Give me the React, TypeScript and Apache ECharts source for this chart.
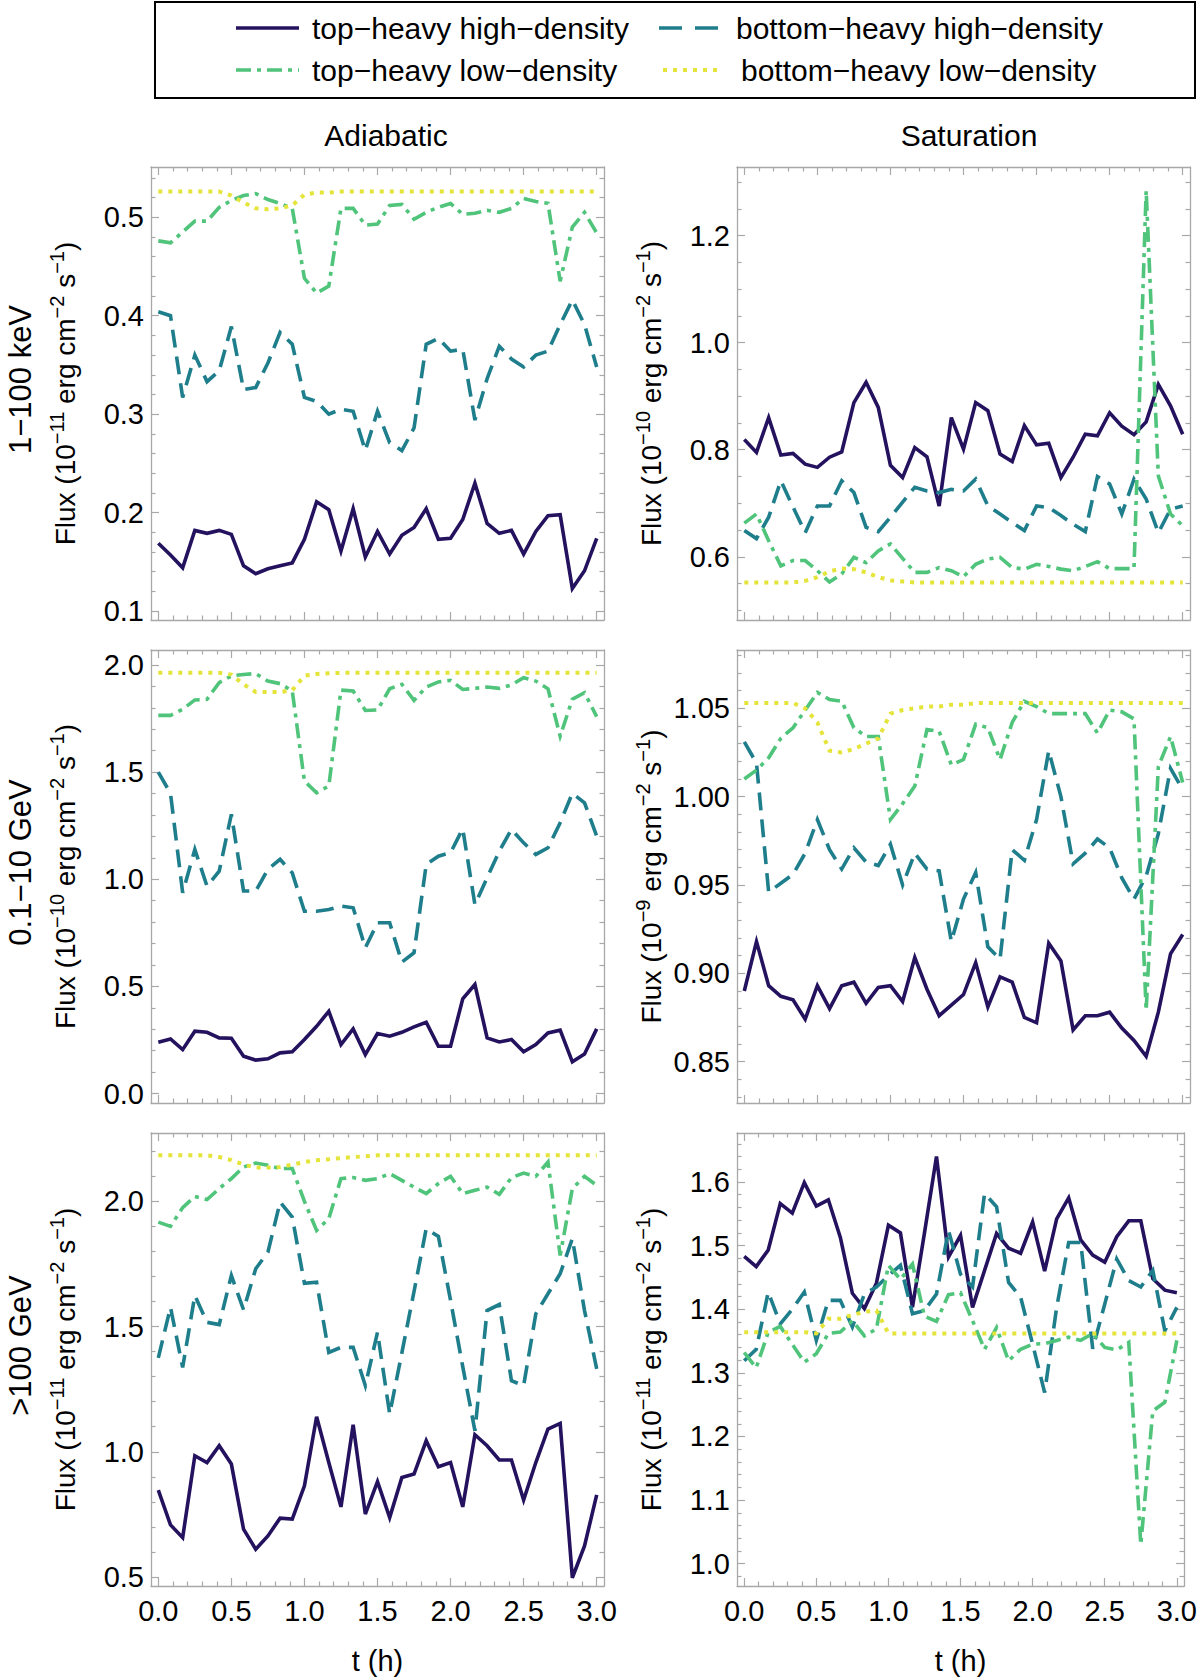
import React, { useEffect, useRef } from "react";
import * as echarts from "echarts";

// time axis: one sample every 5 minutes over 3 h
const MINUTES = [0, 5, 10, 15, 20, 25, 30, 35, 40, 45, 50, 55, 60, 65, 70, 75, 80, 85, 90, 95, 100, 105, 110, 115, 120, 125, 130, 135, 140, 145, 150, 155, 160, 165, 170, 175, 180];
const HOURS = MINUTES.map((m) => m / 60);

const SERIES_NAMES = ["top−heavy high−density", "bottom−heavy high−density", "top−heavy low−density", "bottom−heavy low−density"];
const COLUMN_TITLES = ["Adiabatic", "Saturation"];
const ROW_TITLES = ["1−100 keV", "0.1−10 GeV", ">100 GeV"];
const X_TICKS = [0, 0.5, 1, 1.5, 2, 2.5, 3];

// 1-100 keV, adiabatic (1e-11)
const kevAdiThHigh = [0.169, 0.157, 0.144, 0.182, 0.179, 0.182, 0.178, 0.146, 0.138, 0.143, 0.146, 0.149, 0.173, 0.211, 0.203, 0.161, 0.204, 0.155, 0.181, 0.158, 0.177, 0.185, 0.204, 0.173, 0.174, 0.193, 0.230, 0.189, 0.179, 0.182, 0.158, 0.181, 0.197, 0.198, 0.123, 0.141, 0.174];
const kevAdiBhHigh = [0.404, 0.400, 0.317, 0.360, 0.333, 0.344, 0.389, 0.325, 0.327, 0.352, 0.383, 0.371, 0.317, 0.313, 0.300, 0.305, 0.303, 0.263, 0.303, 0.271, 0.263, 0.286, 0.371, 0.377, 0.364, 0.366, 0.294, 0.336, 0.369, 0.356, 0.348, 0.360, 0.364, 0.391, 0.416, 0.391, 0.348];
const kevAdiThLow = [0.476, 0.474, 0.485, 0.496, 0.496, 0.510, 0.517, 0.522, 0.524, 0.518, 0.514, 0.509, 0.438, 0.423, 0.430, 0.509, 0.509, 0.492, 0.493, 0.512, 0.513, 0.498, 0.505, 0.510, 0.514, 0.503, 0.504, 0.507, 0.505, 0.509, 0.519, 0.516, 0.514, 0.435, 0.490, 0.505, 0.484];
const kevAdiBhLow = [0.526, 0.526, 0.526, 0.526, 0.526, 0.526, 0.522, 0.515, 0.509, 0.508, 0.509, 0.512, 0.523, 0.525, 0.525, 0.526, 0.526, 0.526, 0.526, 0.526, 0.526, 0.526, 0.526, 0.526, 0.526, 0.526, 0.526, 0.526, 0.526, 0.526, 0.526, 0.526, 0.526, 0.526, 0.526, 0.526, 0.526];

// 1-100 keV, saturation (1e-10)
const kevSatThHigh = [0.819, 0.795, 0.860, 0.790, 0.793, 0.773, 0.767, 0.786, 0.796, 0.888, 0.926, 0.879, 0.771, 0.748, 0.804, 0.787, 0.695, 0.860, 0.801, 0.888, 0.873, 0.792, 0.778, 0.845, 0.809, 0.812, 0.748, 0.786, 0.829, 0.826, 0.869, 0.844, 0.828, 0.852, 0.922, 0.882, 0.829];
const kevSatBhHigh = [0.649, 0.634, 0.674, 0.742, 0.693, 0.645, 0.695, 0.695, 0.742, 0.720, 0.655, 0.647, 0.674, 0.702, 0.730, 0.723, 0.720, 0.726, 0.723, 0.745, 0.695, 0.680, 0.664, 0.649, 0.695, 0.692, 0.677, 0.661, 0.647, 0.750, 0.736, 0.680, 0.745, 0.708, 0.645, 0.689, 0.695];
const kevSatThLow = [0.663, 0.680, 0.630, 0.583, 0.593, 0.593, 0.574, 0.553, 0.568, 0.599, 0.589, 0.611, 0.624, 0.597, 0.571, 0.571, 0.580, 0.574, 0.563, 0.586, 0.596, 0.599, 0.580, 0.577, 0.586, 0.582, 0.577, 0.574, 0.582, 0.591, 0.578, 0.578, 0.578, 1.284, 0.751, 0.680, 0.658];
const kevSatBhLow = [0.552, 0.552, 0.552, 0.552, 0.552, 0.555, 0.562, 0.573, 0.578, 0.577, 0.571, 0.562, 0.556, 0.554, 0.552, 0.552, 0.552, 0.552, 0.552, 0.552, 0.552, 0.552, 0.552, 0.552, 0.552, 0.552, 0.552, 0.552, 0.552, 0.552, 0.552, 0.552, 0.552, 0.552, 0.552, 0.552, 0.552];

// 0.1-10 GeV, adiabatic (1e-10)
const gevAdiThHigh = [0.240, 0.255, 0.205, 0.291, 0.286, 0.260, 0.258, 0.174, 0.156, 0.162, 0.190, 0.195, 0.252, 0.314, 0.384, 0.229, 0.302, 0.182, 0.280, 0.268, 0.286, 0.311, 0.333, 0.221, 0.221, 0.442, 0.509, 0.260, 0.241, 0.252, 0.195, 0.229, 0.283, 0.296, 0.148, 0.185, 0.302];
const gevAdiBhHigh = [1.500, 1.401, 0.937, 1.139, 0.968, 1.038, 1.303, 0.945, 0.945, 1.046, 1.093, 1.030, 0.851, 0.851, 0.859, 0.875, 0.867, 0.680, 0.797, 0.797, 0.613, 0.657, 1.069, 1.108, 1.124, 1.236, 0.882, 1.007, 1.131, 1.233, 1.170, 1.116, 1.147, 1.264, 1.401, 1.357, 1.202];
const gevAdiThLow = [1.765, 1.765, 1.793, 1.837, 1.840, 1.918, 1.949, 1.956, 1.960, 1.925, 1.913, 1.879, 1.458, 1.404, 1.435, 1.883, 1.879, 1.788, 1.790, 1.889, 1.910, 1.835, 1.897, 1.921, 1.928, 1.886, 1.891, 1.897, 1.891, 1.907, 1.941, 1.925, 1.889, 1.668, 1.840, 1.871, 1.759];
const gevAdiBhLow = [1.964, 1.964, 1.964, 1.964, 1.964, 1.964, 1.955, 1.910, 1.874, 1.874, 1.874, 1.882, 1.950, 1.958, 1.961, 1.963, 1.964, 1.964, 1.964, 1.964, 1.964, 1.964, 1.964, 1.964, 1.964, 1.964, 1.964, 1.964, 1.964, 1.964, 1.964, 1.964, 1.964, 1.964, 1.964, 1.964, 1.964];

// 0.1-10 GeV, saturation (1e-9)
const gevSatThHigh = [0.890, 0.918, 0.893, 0.887, 0.885, 0.874, 0.893, 0.880, 0.893, 0.895, 0.883, 0.892, 0.893, 0.884, 0.909, 0.891, 0.876, 0.882, 0.888, 0.906, 0.881, 0.898, 0.895, 0.875, 0.872, 0.917, 0.907, 0.868, 0.876, 0.876, 0.878, 0.869, 0.862, 0.853, 0.878, 0.911, 0.922];
const gevSatBhHigh = [1.031, 1.019, 0.946, 0.951, 0.956, 0.968, 0.987, 0.970, 0.959, 0.971, 0.963, 0.961, 0.973, 0.950, 0.968, 0.959, 0.958, 0.918, 0.942, 0.957, 0.915, 0.908, 0.970, 0.964, 0.987, 1.026, 1.000, 0.962, 0.968, 0.976, 0.971, 0.954, 0.942, 0.955, 0.979, 1.016, 1.004];
const gevSatThLow = [1.010, 1.015, 1.022, 1.033, 1.039, 1.049, 1.059, 1.055, 1.054, 1.039, 1.034, 1.034, 0.987, 0.996, 1.006, 1.038, 1.037, 1.018, 1.021, 1.041, 1.039, 1.021, 1.042, 1.054, 1.051, 1.047, 1.047, 1.047, 1.047, 1.036, 1.049, 1.048, 1.044, 0.879, 1.017, 1.034, 1.008];
const gevSatBhLow = [1.053, 1.053, 1.053, 1.053, 1.053, 1.050, 1.042, 1.026, 1.025, 1.027, 1.030, 1.033, 1.047, 1.049, 1.050, 1.051, 1.051, 1.052, 1.052, 1.053, 1.053, 1.053, 1.053, 1.053, 1.053, 1.053, 1.053, 1.053, 1.053, 1.053, 1.053, 1.053, 1.053, 1.053, 1.053, 1.053, 1.053];

// >100 GeV, adiabatic (1e-11)
const tevAdiThHigh = [0.847, 0.708, 0.657, 0.984, 0.957, 1.024, 0.951, 0.691, 0.611, 0.664, 0.735, 0.731, 0.864, 1.140, 0.957, 0.780, 1.108, 0.751, 0.881, 0.737, 0.897, 0.911, 1.044, 0.940, 0.957, 0.780, 1.068, 1.024, 0.967, 0.967, 0.807, 0.957, 1.091, 1.113, 0.497, 0.624, 0.828];
const tevAdiBhHigh = [1.375, 1.577, 1.337, 1.624, 1.517, 1.508, 1.704, 1.567, 1.731, 1.797, 1.997, 1.937, 1.673, 1.677, 1.397, 1.417, 1.417, 1.264, 1.477, 1.151, 1.395, 1.640, 1.891, 1.860, 1.604, 1.340, 1.084, 1.564, 1.588, 1.284, 1.264, 1.551, 1.631, 1.711, 1.851, 1.564, 1.331];
const tevAdiThLow = [1.917, 1.900, 1.975, 2.020, 2.007, 2.051, 2.091, 2.137, 2.153, 2.144, 2.131, 2.131, 2.000, 1.884, 1.931, 2.091, 2.095, 2.084, 2.091, 2.111, 2.084, 2.057, 2.031, 2.071, 2.100, 2.031, 2.044, 2.057, 2.028, 2.095, 2.113, 2.100, 2.157, 1.784, 2.051, 2.100, 2.064];
const tevAdiBhLow = [2.184, 2.184, 2.184, 2.184, 2.184, 2.177, 2.165, 2.147, 2.135, 2.135, 2.137, 2.147, 2.157, 2.164, 2.168, 2.173, 2.177, 2.180, 2.184, 2.184, 2.184, 2.184, 2.184, 2.184, 2.184, 2.184, 2.184, 2.184, 2.184, 2.184, 2.184, 2.184, 2.184, 2.184, 2.184, 2.184, 2.184];

// >100 GeV, saturation (1e-11)
const tevSatThHigh = [1.483, 1.467, 1.493, 1.566, 1.551, 1.599, 1.562, 1.572, 1.513, 1.425, 1.401, 1.441, 1.532, 1.520, 1.403, 1.520, 1.640, 1.482, 1.516, 1.403, 1.461, 1.519, 1.496, 1.488, 1.537, 1.460, 1.542, 1.575, 1.509, 1.485, 1.474, 1.514, 1.539, 1.539, 1.448, 1.430, 1.426];
const tevSatBhHigh = [1.319, 1.337, 1.427, 1.377, 1.400, 1.427, 1.351, 1.414, 1.414, 1.372, 1.424, 1.435, 1.453, 1.469, 1.393, 1.398, 1.424, 1.524, 1.455, 1.435, 1.582, 1.561, 1.442, 1.419, 1.345, 1.269, 1.403, 1.505, 1.505, 1.338, 1.408, 1.479, 1.445, 1.435, 1.461, 1.366, 1.403];
const tevSatThLow = [1.332, 1.308, 1.364, 1.373, 1.345, 1.317, 1.330, 1.362, 1.364, 1.382, 1.358, 1.369, 1.469, 1.447, 1.471, 1.389, 1.381, 1.423, 1.426, 1.382, 1.337, 1.371, 1.319, 1.337, 1.345, 1.346, 1.351, 1.356, 1.351, 1.362, 1.340, 1.336, 1.348, 1.030, 1.240, 1.254, 1.351];
const tevSatBhLow = [1.364, 1.364, 1.364, 1.364, 1.364, 1.364, 1.362, 1.385, 1.385, 1.391, 1.396, 1.398, 1.362, 1.362, 1.362, 1.362, 1.362, 1.362, 1.362, 1.362, 1.362, 1.362, 1.362, 1.362, 1.362, 1.362, 1.362, 1.362, 1.362, 1.362, 1.362, 1.362, 1.362, 1.362, 1.362, 1.362, 1.362];

// y tick labels per panel
const kevAdiTicks = [0.1, 0.2, 0.3, 0.4, 0.5];
const kevSatTicks = [0.6, 0.8, 1.0, 1.2];
const gevAdiTicks = [0.0, 0.5, 1.0, 1.5, 2.0];
const gevSatTicks = [0.85, 0.9, 0.95, 1.0, 1.05];
const tevAdiTicks = [0.5, 1.0, 1.5, 2.0];
const tevSatTicks = [1.0, 1.1, 1.2, 1.3, 1.4, 1.5, 1.6];
const EXPONENTS = ["−11", "−10", "−10", "−9", "−11", "−11"];

const FONT = "'Liberation Sans', Arial, Helvetica, sans-serif";
const FRAME = "#a8a8a8";
const COLORS = ["#24125f", "#1f7e8b", "#4fc47a", "#e4e43a"];
const DASHES: any[] = ["solid", [18, 9], [15, 6, 4, 6], [4, 6]];
const WIDTHS = [3.6, 3.6, 3.6, 4];

const X_MIN = -0.05;
const X_MAX = 3.05;
const GRID_LEFTS = [151, 737];
const GRID_TOPS = [167, 650, 1133];
const GRID_SIZE = 453;

const PANELS = [
  { lines: [kevAdiThHigh, kevAdiBhHigh, kevAdiThLow, kevAdiBhLow], min: 0.091, max: 0.551, ticks: kevAdiTicks, minor: 0.02, digits: 1 },
  { lines: [kevSatThHigh, kevSatBhHigh, kevSatThLow, kevSatBhLow], min: 0.482, max: 1.328, ticks: kevSatTicks, minor: 0.05, digits: 1 },
  { lines: [gevAdiThHigh, gevAdiBhHigh, gevAdiThLow, gevAdiBhLow], min: -0.044, max: 2.07, ticks: gevAdiTicks, minor: 0.1, digits: 1 },
  { lines: [gevSatThHigh, gevSatBhHigh, gevSatThLow, gevSatBhLow], min: 0.8266, max: 1.083, ticks: gevSatTicks, minor: 0.01, digits: 2 },
  { lines: [tevAdiThHigh, tevAdiBhHigh, tevAdiThLow, tevAdiBhLow], min: 0.464, max: 2.273, ticks: tevAdiTicks, minor: 0.1, digits: 1 },
  { lines: [tevSatThHigh, tevSatBhHigh, tevSatThLow, tevSatBhLow], min: 0.965, max: 1.677, ticks: tevSatTicks, minor: 0.02, digits: 1 },
];

function minorValues(min: number, max: number, step: number, majors: number[]) {
  const out: number[] = [];
  for (let k = Math.ceil(min / step - 1e-9); k * step <= max + 1e-9; k++) {
    const v = +(k * step).toFixed(4);
    if (!majors.some((m) => Math.abs(m - v) < 1e-6)) out.push(v);
  }
  return out;
}

const X_MINOR = minorValues(X_MIN, X_MAX, 0.1, X_TICKS);

function frameAxis(g: number, position: string, min: number, max: number, major: boolean, values: number[], extra: any = {}) {
  return {
    type: "value",
    gridIndex: g,
    position,
    min,
    max,
    splitLine: { show: false },
    axisLine: { show: major, onZero: false, lineStyle: { color: FRAME, width: 1.3 } },
    axisTick: { show: true, inside: true, length: major ? 8 : 4.5, customValues: values, lineStyle: { color: FRAME, width: 1.2 } },
    axisLabel: { show: false },
    ...extra,
  };
}

export default function App() {
  const chartRef = useRef<HTMLDivElement>(null);

  useEffect(() => {
    if (!chartRef.current) return;
    document.body.style.margin = "0";
    const chart = echarts.init(chartRef.current, null, { renderer: "svg" });

    const grids: any[] = [];
    const xAxes: any[] = [];
    const yAxes: any[] = [];
    const series: any[] = [];
    const graphic: any[] = [];

    PANELS.forEach((p, g) => {
      const row = Math.floor(g / 2);
      const col = g % 2;
      const left = GRID_LEFTS[col];
      const top = GRID_TOPS[row];
      grids.push({ left, top, width: GRID_SIZE, height: GRID_SIZE, show: false });
      const bottomRow = row === 2;

      xAxes.push(
        frameAxis(g, "bottom", X_MIN, X_MAX, true, X_TICKS, {
          axisLabel: {
            show: bottomRow,
            customValues: X_TICKS,
            formatter: (v: number) => v.toFixed(1),
            margin: 10,
            fontSize: 29,
            color: "#000",
            fontFamily: FONT,
          },
          name: bottomRow ? "t (h)" : "",
          nameLocation: "middle",
          nameGap: 60,
          nameTextStyle: { fontSize: 29, color: "#000", fontFamily: FONT },
        }),
        frameAxis(g, "bottom", X_MIN, X_MAX, false, X_MINOR),
        frameAxis(g, "top", X_MIN, X_MAX, true, X_TICKS),
        frameAxis(g, "top", X_MIN, X_MAX, false, X_MINOR)
      );

      const yMinor = minorValues(p.min, p.max, p.minor, p.ticks);
      yAxes.push(
        frameAxis(g, "left", p.min, p.max, true, p.ticks, {
          axisLabel: {
            show: true,
            customValues: p.ticks,
            formatter: (v: number) => v.toFixed(p.digits),
            margin: 7,
            fontSize: 29,
            color: "#000",
            fontFamily: FONT,
          },
        }),
        frameAxis(g, "left", p.min, p.max, false, yMinor),
        frameAxis(g, "right", p.min, p.max, true, p.ticks),
        frameAxis(g, "right", p.min, p.max, false, yMinor)
      );

      p.lines.forEach((values, s) => {
        series.push({
          name: SERIES_NAMES[s],
          type: "line",
          xAxisIndex: g * 4,
          yAxisIndex: g * 4,
          data: HOURS.map((h, i) => [h, values[i]]),
          symbol: "none",
          showSymbol: false,
          lineStyle: { color: COLORS[s], width: WIDTHS[s], type: DASHES[s], cap: "butt", join: "miter" },
          z: 2,
        });
      });

      // Flux label
      graphic.push({
        type: "text",
        x: left - 86,
        y: top + GRID_SIZE / 2,
        rotation: Math.PI / 2,
        style: {
          text: `{m|Flux (10}{s|${EXPONENTS[g]}}{m| erg cm}{s|−2}{m| s}{s|−1}{m|)}`,
          align: "center",
          verticalAlign: "middle",
          rich: {
            m: { fontSize: 28, fontFamily: FONT, fill: "#000", lineHeight: 36 },
            s: { fontSize: 20, fontFamily: FONT, fill: "#000", lineHeight: 20, verticalAlign: "top" },
          },
        },
      });
    });

    ROW_TITLES.forEach((t, r) => {
      graphic.push({
        type: "text",
        x: 20,
        y: GRID_TOPS[r] + GRID_SIZE / 2 - 14,
        rotation: Math.PI / 2,
        style: { text: t, fontSize: 31, fontFamily: FONT, fill: "#000", align: "center", verticalAlign: "middle" },
      });
    });

    COLUMN_TITLES.forEach((t, c) => {
      graphic.push({
        type: "text",
        x: c === 0 ? 386 : 969,
        y: 135,
        style: { text: t, fontSize: 30, fontFamily: FONT, fill: "#000", align: "center", verticalAlign: "middle" },
      });
    });

    // legend box
    graphic.push({
      type: "rect",
      shape: { x: 155, y: 2, width: 1040, height: 96 },
      style: { fill: "none", stroke: "#000", lineWidth: 2 },
    });
    const legendSpots = [
      { x1: 236, x2: 299, tx: 312, y: 28 },
      { x1: 659, x2: 721, tx: 736, y: 28 },
      { x1: 236, x2: 299, tx: 312, y: 70 },
      { x1: 663, x2: 721, tx: 741, y: 70 },
    ];
    legendSpots.forEach((l, s) => {
      graphic.push({
        type: "line",
        shape: { x1: l.x1, y1: l.y, x2: l.x2, y2: l.y },
        style: {
          stroke: COLORS[s],
          lineWidth: WIDTHS[s],
          lineDash: s === 0 ? null : s === 1 ? [23, 13] : DASHES[s],
        },
      });
      graphic.push({
        type: "text",
        x: l.tx,
        y: l.y,
        style: { text: SERIES_NAMES[s], fontSize: 30, fontFamily: FONT, fill: "#000", align: "left", verticalAlign: "middle" },
      });
    });

    chart.setOption({
      animation: false,
      backgroundColor: "#ffffff",
      textStyle: { fontFamily: FONT },
      grid: grids,
      xAxis: xAxes,
      yAxis: yAxes,
      series,
      graphic,
    });

    return () => {
      chart.dispose();
    };
  }, []);

  return <div ref={chartRef} style={{ width: 1200, height: 1678 }} />;
}
